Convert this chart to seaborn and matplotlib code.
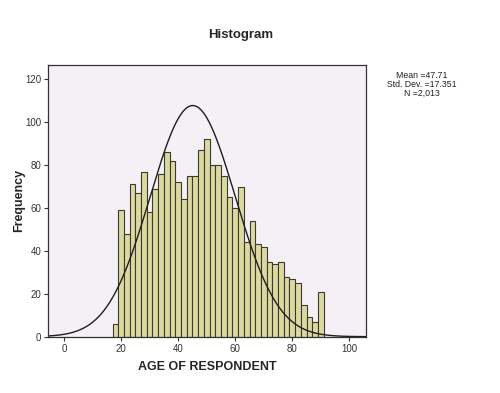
import numpy as np
import pandas as pd
import matplotlib
matplotlib.use("Agg")
import matplotlib.pyplot as plt
import seaborn as sns

# lower edge of each 2-year age bin and its count
bin_lower = [17, 19, 21, 23, 25, 27, 29, 31, 33, 35, 37, 39, 41, 43, 45, 47, 49, 51, 53,
             55, 57, 59, 61, 63, 65, 67, 69, 71, 73, 75, 77, 79, 81, 83, 85, 87, 89]
counts = [6, 59, 48, 71, 67, 77, 58, 69, 76, 86, 82, 72, 64, 75, 75, 87, 92, 80, 80,
          75, 65, 60, 70, 44, 54, 43, 42, 35, 34, 35, 28, 27, 25, 15, 9, 7, 21]
bin_width = 2

# stats shown in the box
stat_mean = 47.71
stat_sd = 17.351
stat_n = 2013

# normal curve as drawn in the picture
curve_mean = 45.1
curve_sd = 14.9

df = pd.DataFrame({"age": np.array(bin_lower) + bin_width / 2, "count": counts})
edges = list(bin_lower) + [bin_lower[-1] + bin_width]

sns.set_style("ticks")
plt.rcParams["font.family"] = ["Liberation Sans", "DejaVu Sans"]

fig = plt.figure(figsize=(5, 3.93), dpi=100)
ax = fig.add_axes([0.0966, 0.1433, 0.6348, 0.6913])
ax.set_facecolor("#f4f0f6")

sns.histplot(data=df, x="age", weights="count", bins=edges, ax=ax,
             color="#dcd9a0", edgecolor="#3a3a30", linewidth=0.8, alpha=1)

xs = np.linspace(-5.5, 105.7, 400)
ys = stat_n * bin_width / (curve_sd * np.sqrt(2 * np.pi)) * np.exp(-0.5 * ((xs - curve_mean) / curve_sd) ** 2)
sns.lineplot(x=xs, y=ys, ax=ax, color="#1e1e1e", linewidth=1.0)

ax.set_xlim(-5.5, 105.7)
ax.set_ylim(0, 126.7)
ax.set_xticks([0, 20, 40, 60, 80, 100])
ax.set_yticks([0, 20, 40, 60, 80, 100, 120])
ax.tick_params(labelsize=7, length=3, width=0.8, color="#333333", labelcolor="#333333", pad=2)
for s in ax.spines.values():
    s.set_color("#333333")
    s.set_linewidth(0.9)

ax.set_xlabel("AGE OF RESPONDENT", fontsize=9, fontweight="bold", labelpad=5)
ax.set_ylabel("Frequency", fontsize=9, fontweight="bold", labelpad=0)
fig.text(0.482, 0.912, "Histogram", ha="center", va="center", fontsize=9.5, fontweight="bold")

fig.text(0.843, 0.785,
         f"Mean ={stat_mean}\nStd. Dev. ={stat_sd}\nN ={stat_n:,}",
         ha="center", va="center", fontsize=6.3, linespacing=1.0, color="#222222")

fig.savefig("out.png", dpi=100)
